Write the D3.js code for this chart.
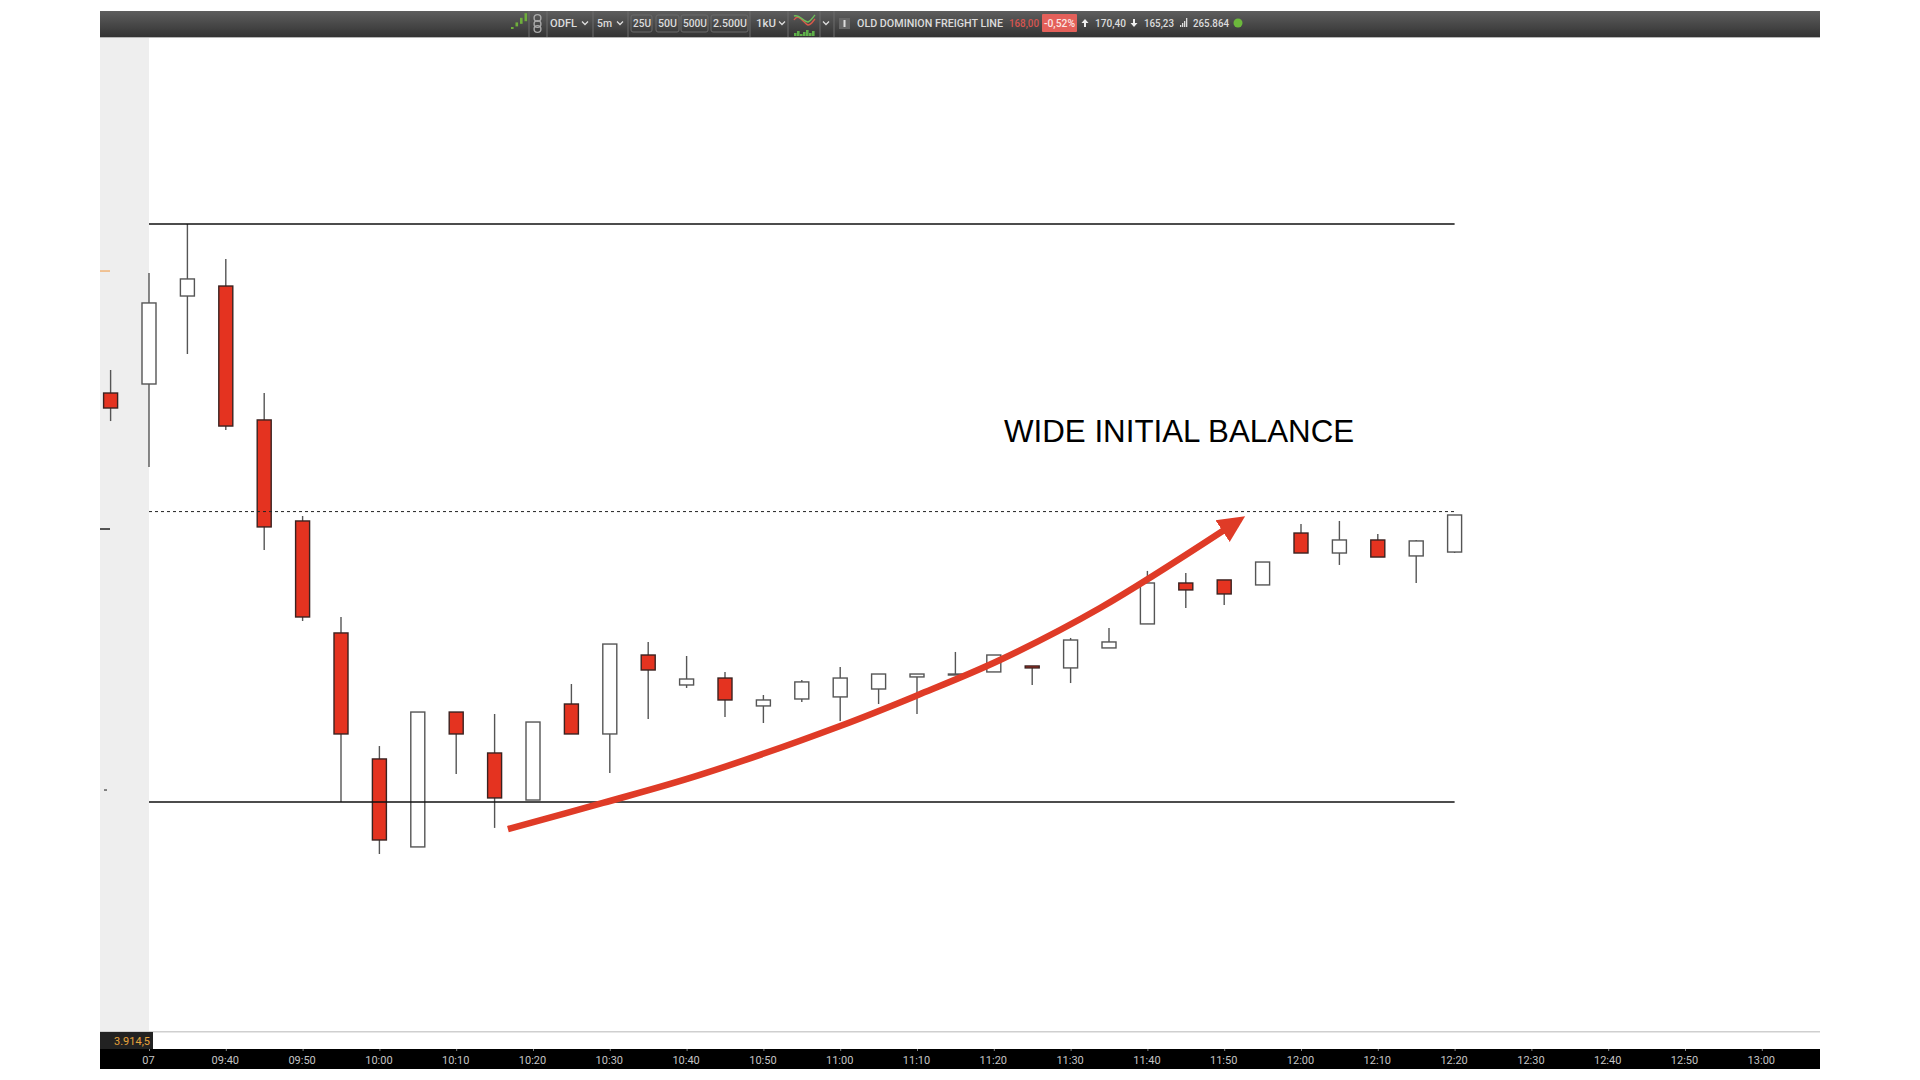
<!DOCTYPE html>
<html>
<head>
<meta charset="utf-8">
<script src="https://cdn.jsdelivr.net/npm/d3@7"></script>
<style>
  html, body { margin: 0; background: #fff; }
  svg { display: block; }
  .toolbar text { font-family: Roboto, sans-serif; font-size: 11px; fill: #dcdcdc; dominant-baseline: central; }
  .x-axis text { font-family: Roboto, sans-serif; font-size: 11px; fill: #c4c4c4; }
</style>
</head>
<body>
<div id="chart"></div>
<script>
const candleTimes = ["09:25","09:30","09:35","09:40","09:45","09:50","09:55","10:00","10:05","10:10","10:15","10:20",
  "10:25","10:30","10:35","10:40","10:45","10:50","10:55","11:00","11:05","11:10","11:15","11:20",
  "11:25","11:30","11:35","11:40","11:45","11:50","11:55","12:00","12:05","12:10","12:15","12:20"];
const highs = [169.202,169.998,170.400,170.113,169.013,168.004,167.175,166.116,166.395,166.395,166.379,166.313,
  166.625,166.953,166.970,166.855,166.724,166.535,166.658,166.765,166.707,166.707,166.888,166.863,
  166.773,167.003,167.085,167.553,167.536,167.479,167.626,167.938,167.963,167.856,167.807,168.012];
const opens = [169.013,169.087,169.809,169.891,168.792,167.963,167.044,166.010,165.288,166.395,166.059,165.673,
  166.461,166.215,166.863,166.617,166.674,166.445,166.502,166.519,166.584,166.683,166.699,166.724,
  166.773,166.757,166.921,167.118,167.454,167.479,167.438,167.864,167.700,167.807,167.676,167.708];
const closes = [168.890,169.752,169.949,168.742,167.914,167.175,166.215,165.345,166.395,166.215,165.690,166.313,
  166.215,166.953,166.740,166.666,166.494,166.494,166.642,166.674,166.707,166.707,166.707,166.863,
  166.757,166.986,166.970,167.454,167.397,167.364,167.626,167.700,167.807,167.667,167.799,168.012];
const lows = [168.783,168.406,169.333,168.710,167.725,167.142,165.657,165.230,165.288,165.887,165.444,165.673,
  166.215,165.895,166.338,166.592,166.354,166.305,166.477,166.322,166.461,166.379,166.699,166.724,
  166.617,166.633,166.921,167.118,167.249,167.274,167.438,167.700,167.602,167.667,167.454,167.700];

const tickTimes = ["09:30","09:40","09:50","10:00","10:10","10:20","10:30","10:40","10:50","11:00","11:10",
  "11:20","11:30","11:40","11:50","12:00","12:10","12:20","12:30","12:40","12:50","13:00"];
const tickLabels = ["07","09:40","09:50","10:00","10:10","10:20","10:30","10:40","10:50","11:00","11:10",
  "11:20","11:30","11:40","11:50","12:00","12:10","12:20","12:30","12:40","12:50","13:00"];

const solidLevels = [170.40, 165.657];
const dashedLevel = 168.04;
const sideMarkPrices = [170.014, 167.897, 165.755];
const sideMarkColors = ["#f0b070", "#111", "#555"];

const arrowTimes = ["10:16:44","10:29:06","10:41:44","11:00:00","11:10:08","11:20:48","11:33:50","11:50:00"];
const arrowPrices = [165.435,165.649,165.879,166.281,166.535,166.822,167.249,167.889];

const headerLabels = ["ODFL","5m","25U","50U","500U","2.500U","1kU","OLD DOMINION FREIGHT LINE","168,00","-0,52%","170,40","165,23","265.864"];
const headerIconCandles = [2, 4, 6, 8];
const headerStudyBars = [3, 5, 2, 4, 6, 3, 5];

const parseTime = d3.timeParse("%H:%M");
const parseTimeSec = d3.timeParse("%H:%M:%S");

const candles = candleTimes.map((t, i) => ({
  time: parseTime(t), high: highs[i], open: opens[i], close: closes[i], low: lows[i]
}));

const width = 1920, height = 1080;
const left = 100, right = 1820;

const x = d3.scaleTime().domain([parseTime("09:30"), parseTime("13:00")]).range([149, 1761.8]);
const y = d3.scaleLinear().domain([170.40, 165.23]).range([224, 854]);

const svg = d3.select("#chart").append("svg").attr("width", width).attr("height", height);

// grey band left of the session start
svg.append("rect").attr("x", left).attr("y", 37).attr("width", x(parseTime("09:30")) - left).attr("height", 995).attr("fill", "#eeeeee");

svg.append("g").selectAll("rect").data(sideMarkPrices).join("rect")
  .attr("x", (d, i) => i === 2 ? 104 : left)
  .attr("y", (d) => y(d) - 0.7)
  .attr("width", (d, i) => i === 2 ? 3 : 10)
  .attr("height", 1.4)
  .attr("fill", (d, i) => sideMarkColors[i]);

// wicks
svg.append("g").selectAll("line").data(candles).join("line")
  .attr("x1", (d) => x(d.time)).attr("x2", (d) => x(d.time))
  .attr("y1", (d) => y(d.high)).attr("y2", (d) => y(d.low))
  .attr("stroke", "#555").attr("stroke-width", 1.4);

// bodies
svg.append("g").selectAll("rect").data(candles).join("rect")
  .attr("x", (d) => x(d.time) - 7)
  .attr("y", (d) => y(Math.max(d.open, d.close)))
  .attr("width", 14)
  .attr("height", (d) => Math.max(1, Math.abs(y(d.open) - y(d.close))))
  .attr("fill", (d) => d.close < d.open ? "#e43320" : "#fff")
  .attr("stroke", (d) => d.close < d.open ? "#3a2220" : "#555")
  .attr("stroke-width", 1.4);

// IB levels
const levelStart = parseTime("09:30"), levelEnd = parseTime("12:20");
svg.append("g").selectAll("line").data(solidLevels).join("line")
  .attr("x1", x(levelStart)).attr("x2", x(levelEnd))
  .attr("y1", (d) => y(d)).attr("y2", (d) => y(d))
  .attr("stroke", "#111").attr("stroke-width", 1.5);
svg.append("line")
  .attr("x1", x(levelStart)).attr("x2", x(levelEnd))
  .attr("y1", y(dashedLevel)).attr("y2", y(dashedLevel))
  .attr("stroke", "#222").attr("stroke-width", 1).attr("stroke-dasharray", "3,3");

// arrow
svg.append("defs").append("marker")
  .attr("id", "head").attr("markerUnits", "userSpaceOnUse")
  .attr("viewBox", "0 -14 28 28").attr("refX", 2).attr("refY", 0)
  .attr("markerWidth", 28).attr("markerHeight", 28).attr("orient", "auto")
  .append("path").attr("d", "M0,-13L27,0L0,13Z").attr("fill", "#df3b27");

const arrowLine = d3.line().x((d) => x(d[0])).y((d) => y(d[1])).curve(d3.curveCatmullRom.alpha(0.5));
svg.append("path")
  .datum(arrowTimes.map((t, i) => [parseTimeSec(t), arrowPrices[i]]))
  .attr("d", arrowLine)
  .attr("fill", "none").attr("stroke", "#df3b27").attr("stroke-width", 6.5)
  .attr("marker-end", "url(#head)");

svg.append("text")
  .attr("x", 1004).attr("y", 441.5)
  .attr("font-family", "'Liberation Sans', Arial, sans-serif")
  .attr("font-size", 31.3)
  .attr("fill", "#000")
  .text("WIDE INITIAL BALANCE");

// bottom strip
svg.append("rect").attr("x", left).attr("y", 1031).attr("width", right - left).attr("height", 1.5).attr("fill", "#cfcfcf");
svg.append("rect").attr("x", left).attr("y", 1032).attr("width", 53).attr("height", 17).attr("fill", "#222");
svg.append("text").attr("x", 150).attr("y", 1041).attr("text-anchor", "end").attr("dominant-baseline", "central")
  .attr("font-family", "Roboto, sans-serif").attr("font-size", 11).attr("fill", "#e8a33a").text("3.914,5");

svg.append("rect").attr("x", left).attr("y", 1049).attr("width", right - left).attr("height", 20).attr("fill", "#000");
const xAxis = d3.axisBottom(x)
  .tickValues(tickTimes.map(parseTime))
  .tickFormat((d, i) => tickLabels[i])
  .tickSizeInner(2).tickSizeOuter(0).tickPadding(5);
const axisG = svg.append("g").attr("class", "x-axis").attr("transform", "translate(0,1049)").call(xAxis);
axisG.select(".domain").remove();
axisG.selectAll("line").attr("stroke", "#888");
axisG.selectAll("text").attr("dx", -1);

// top toolbar
const defs = svg.select("defs");
const grad = defs.append("linearGradient").attr("id", "bar").attr("x1", 0).attr("x2", 0).attr("y1", 0).attr("y2", 1);
grad.append("stop").attr("offset", 0).attr("stop-color", "#5e5e5e");
grad.append("stop").attr("offset", 1).attr("stop-color", "#333");

const bar = svg.append("g").attr("class", "toolbar");
bar.append("rect").attr("x", left).attr("y", 11).attr("width", right - left).attr("height", 26).attr("fill", "url(#bar)");
bar.append("rect").attr("x", left).attr("y", 37).attr("width", right - left).attr("height", 1).attr("fill", "#b5b5b5");

bar.selectAll("line.sep").data([529, 547, 593, 628, 750, 788, 820, 834]).join("line")
  .attr("class", "sep").attr("x1", (d) => d).attr("x2", (d) => d).attr("y1", 11).attr("y2", 37)
  .attr("stroke", "#6c6c6c");

// small candle icon
bar.selectAll("rect.ic").data(headerIconCandles).join("rect")
  .attr("class", "ic")
  .attr("x", (d, i) => 511 + i * 4.5)
  .attr("y", (d, i) => 29 - i * 2.6 - d)
  .attr("width", 2.6).attr("height", (d) => d).attr("fill", "#6fae3c");

// chain icon
bar.selectAll("circle.chain").data([18, 24, 29]).join("circle")
  .attr("class", "chain").attr("cx", 537.5).attr("cy", (d) => d).attr("r", 3.4)
  .attr("fill", "none").attr("stroke", "#aaa").attr("stroke-width", 1.4);

// button outlines
const buttons = [[631, 21], [656, 23], [681, 27], [711, 37]];
bar.selectAll("rect.btn").data(buttons).join("rect")
  .attr("class", "btn").attr("x", (d) => d[0]).attr("y", 15).attr("width", (d) => d[1]).attr("height", 17)
  .attr("rx", 2).attr("fill", "none").attr("stroke", "#6a6a6a");

// percent box
bar.append("rect").attr("x", 1042).attr("y", 14).attr("width", 35).attr("height", 18).attr("rx", 1).attr("fill", "#e4605a");

const labelX = [550, 597, 633, 658, 683, 713, 756, 857, 1009, 1044, 1095, 1144, 1193];
const labelW = [27, 15, 18, 19, 24, 34, 20, 146, 30, 31, 31, 30, 36];
const labelFill = ["#dcdcdc","#dcdcdc","#dcdcdc","#dcdcdc","#dcdcdc","#dcdcdc","#dcdcdc","#dcdcdc","#d6544f","#fbe5e3","#dcdcdc","#dcdcdc","#dcdcdc"];
bar.selectAll("text.lbl").data(headerLabels).join("text")
  .attr("class", "lbl")
  .attr("x", (d, i) => labelX[i]).attr("y", 23)
  .attr("textLength", (d, i) => labelW[i]).attr("lengthAdjust", "spacingAndGlyphs")
  .style("fill", (d, i) => labelFill[i])
  .style("font-size", (d) => d.length > 20 ? "10.4px" : null)
  .style("font-weight", 500)
  .text((d) => d);

// carets
bar.selectAll("path.caret").data([585, 620, 782, 826]).join("path")
  .attr("class", "caret")
  .attr("d", (d) => `M${d - 3},21.5L${d},24.5L${d + 3},21.5`)
  .attr("fill", "none").attr("stroke", "#ddd").attr("stroke-width", 1.3);

// study icon
bar.selectAll("rect.study").data(headerStudyBars).join("rect")
  .attr("class", "study")
  .attr("x", (d, i) => 794 + i * 3).attr("y", (d) => 36 - d)
  .attr("width", 2.6).attr("height", (d) => d).attr("fill", "#5fb04a");
bar.append("path").attr("d", "M794,20C799,12 804,24 808,25C811,25 813,21 815,19").attr("fill", "none").attr("stroke", "#d85a4a").attr("stroke-width", 1.4);
bar.append("path").attr("d", "M794,16C799,14 804,22 808,22C811,21 813,17 815,15").attr("fill", "none").attr("stroke", "#6fbf5a").attr("stroke-width", 1.4);

// info box
bar.append("rect").attr("x", 839).attr("y", 18).attr("width", 11).attr("height", 11).attr("fill", "#666");
bar.append("rect").attr("x", 843.5).attr("y", 20).attr("width", 2).attr("height", 7).attr("fill", "#ddd");

// high / low arrows
bar.append("path").attr("d", "M1085,19L1088.5,23H1086V27H1084V23H1081.5Z").attr("fill", "#eee");
bar.append("path").attr("d", "M1134,27L1130.5,23H1133V19H1135V23H1137.5Z").attr("fill", "#eee");

// volume bars
bar.selectAll("rect.vol").data([2, 4, 6, 9]).join("rect")
  .attr("class", "vol").attr("x", (d, i) => 1180 + i * 2).attr("y", (d) => 27 - d)
  .attr("width", 1.3).attr("height", (d) => d).attr("fill", "#ddd");

// status dot
bar.append("circle").attr("cx", 1238).attr("cy", 23).attr("r", 4.5).attr("fill", "#6cb93c");
</script>
</body>
</html>
